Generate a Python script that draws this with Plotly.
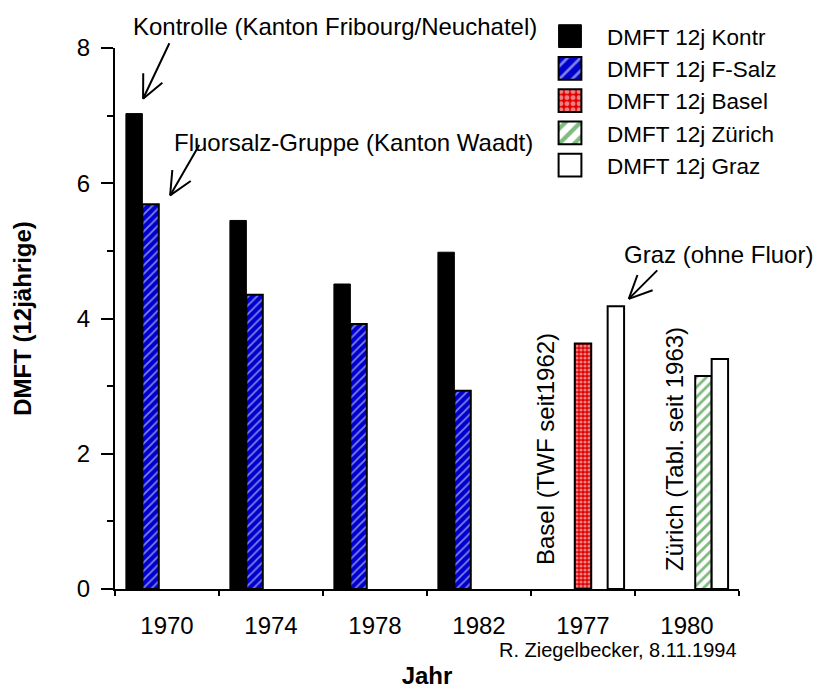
import math
import plotly.graph_objects as go

categories = ["1970", "1974", "1978", "1982", "1977", "1980"]
kontr = [7.03, 5.45, 4.51, 4.98, None, None]
fsalz = [5.69, 4.35, 3.92, 2.93, None, None]
basel = [None, None, None, None, 3.63, None]
zurich = [None, None, None, None, None, 3.15]
graz = [None, None, None, None, 4.18, 3.40]

FONT = "Liberation Sans, Arial, sans-serif"

fig = go.Figure()
fig.add_trace(go.Bar(name="DMFT 12j Kontr", x=categories, y=kontr,
                     marker=dict(color="black", line=dict(color="black", width=1))))
fig.add_trace(go.Bar(name="DMFT 12j F-Salz", x=categories, y=fsalz,
                     marker=dict(color="#0000CC",
                                 pattern=dict(shape="/", bgcolor="#0000CC", fgcolor="white",
                                              size=6, solidity=0.3),
                                 line=dict(color="black", width=2))))
fig.add_trace(go.Bar(name="DMFT 12j Basel", x=categories, y=basel,
                     marker=dict(color="#E00000",
                                 pattern=dict(shape=".", bgcolor="#E00000", fgcolor="white",
                                              size=4, solidity=0.5),
                                 line=dict(color="black", width=2))))
fig.add_trace(go.Bar(name="DMFT 12j Zürich", x=categories, y=zurich,
                     marker=dict(color="white",
                                 pattern=dict(shape="/", bgcolor="white", fgcolor="#007A00",
                                              size=7, solidity=0.4),
                                 line=dict(color="black", width=2))))
fig.add_trace(go.Bar(name="DMFT 12j Graz", x=categories, y=graz,
                     marker=dict(color="white", line=dict(color="black", width=2))))

# plot area geometry (pixels) for paper-coordinate text placement
L, R, T, B = 115, 739, 48, 589
def px(x):
    return (x - L) / (R - L)
def py(y):
    return (B - y) / (B - T)

texts = [
    ("Kontrolle (Kanton Fribourg/Neuchatel)", 131, 27),
    ("Fluorsalz-Gruppe (Kanton Waadt)", 172, 142),
    ("Graz (ohne Fluor)", 622, 255),
]
for t, x, y in texts:
    fig.add_annotation(text=t, x=px(x), y=py(y), xref="paper", yref="paper",
                       xanchor="left", yanchor="middle", showarrow=False,
                       font=dict(size=24, color="black", family=FONT))

for t, x, y in [("Basel (TWF seit1962)", 545, 449), ("Zürich (Tabl. seit 1963)", 674, 449)]:
    fig.add_annotation(text=t, x=px(x), y=py(y), xref="paper", yref="paper",
                       xanchor="center", yanchor="middle", showarrow=False, textangle=-90,
                       font=dict(size=24, color="black", family=FONT))

fig.add_annotation(text="R. Ziegelbecker, 8.11.1994", x=px(739), y=py(650),
                   xref="paper", yref="paper", xanchor="right", yanchor="middle",
                   showarrow=False, font=dict(size=20, color="black", family=FONT))

# open arrows: shaft + two barbs
def add_arrow(xc, yv, ax, ay, barb=27, spread=25):
    common = dict(x=xc, y=yv, xref="x", yref="y", text="", showarrow=True,
                  arrowhead=0, arrowwidth=2, arrowcolor="black", standoff=0)
    fig.add_annotation(ax=ax, ay=ay, **common)
    ang = math.atan2(ay, ax)
    for s in (1, -1):
        a = ang + s * math.radians(spread)
        fig.add_annotation(ax=barb * math.cos(a), ay=barb * math.sin(a), **common)

add_arrow(-0.23, kontr[0] + 0.22, 27, -57)
add_arrow(0.03, fsalz[0] + 0.13, 30, -52)
add_arrow(4.44, graz[4] + 0.11, 30, -30)

fig.update_layout(
    width=817, height=693,
    margin=dict(l=L, r=817 - R, t=T, b=693 - B, autoexpand=False),
    paper_bgcolor="white", plot_bgcolor="white",
    barmode="group", bargap=0.21, bargroupgap=0,
    font=dict(family=FONT, size=24, color="black"),
    showlegend=True,
    legend=dict(x=px(567), y=py(15), xanchor="left", yanchor="top",
                font=dict(size=22.5, family=FONT), bgcolor="rgba(0,0,0,0)",
                tracegroupgap=0),
    hovermode=False,
)
fig.update_xaxes(type="category", categoryorder="array", categoryarray=categories,
                 range=[-0.5, 5.5], showline=True, linecolor="black", linewidth=2,
                 ticks="outside", tickson="boundaries", ticklen=5, tickwidth=2,
                 tickcolor="black", showgrid=False, zeroline=False,
                 tickfont=dict(size=24), ticklabelstandoff=14,
                 title=dict(text="<b>Jahr</b>", font=dict(size=24), standoff=29))
fig.update_yaxes(range=[0, 8], dtick=2, tick0=0, showline=True, linecolor="black",
                 linewidth=2, ticks="outside", ticklen=12, tickwidth=2, tickcolor="black",
                 minor=dict(dtick=1, ticklen=6, tickwidth=2, tickcolor="black", ticks="outside"),
                 showgrid=False, zeroline=False, tickfont=dict(size=24),
                 ticklabelstandoff=6,
                 title=dict(text="<b>DMFT (12jährige)</b>", font=dict(size=24), standoff=38))

post = (
    "document.body.style.margin='0px';document.body.style.overflow='hidden';"
    "var gd=document.getElementById('{plot_id}');"
    "gd.querySelectorAll('.legend [clip-path]').forEach(function(e){e.removeAttribute('clip-path');});"
    "gd.querySelectorAll('.legendpoints path').forEach(function(p){"
    "p.setAttribute('transform','translate(3,0) scale(1.9)');"
    "p.style.vectorEffect='non-scaling-stroke';});"
)
fig.write_html("out.html", config={"displayModeBar": False, "staticPlot": True},
               post_script=post)
